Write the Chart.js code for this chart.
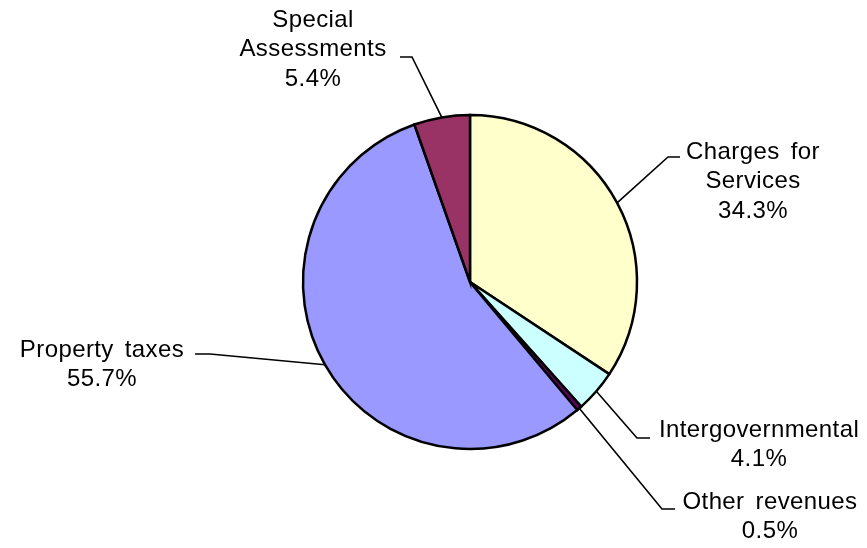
<!DOCTYPE html>
<html>
<head>
<meta charset="utf-8">
<script src="https://cdn.jsdelivr.net/npm/chart.js@4.4.1/dist/chart.umd.min.js"></script>
<style>
  html, body { margin: 0; padding: 0; background: #ffffff; }
  #wrap { width: 867px; height: 548px; position: relative; }
</style>
</head>
<body>
<div id="wrap"><canvas id="pie"></canvas></div>
<script>
// Data
const categories = ["Charges for Services", "Intergovernmental", "Other revenues", "Property taxes", "Special Assessments"];
const shares = [34.3, 4.1, 0.5, 55.7, 5.4];
const sliceColors = ["#FFFFCC", "#CCFFFF", "#660066", "#9999FF", "#993366"];
// label text lines (as shown next to each slice)
const labelLines = [
    ["Charges for", "Services", "34.3%"],
    ["Intergovernmental", "4.1%"],
    ["Other revenues", "0.5%"],
    ["Property taxes", "55.7%"],
    ["Special", "Assessments", "5.4%"]
];

// where each label block sits, plus elbow of its leader line
const labelLayout = [
    { cx: 753, top: 152, elbow: [668, 157], end: [680, 157] },
    { cx: 759, top: 430, elbow: [637, 438], end: [650, 438] },
    { cx: 770, top: 502, elbow: [662, 509], end: [675, 509] },
    { cx: 102, top: 350, elbow: [210, 354], end: [195, 354] },
    { cx: 313, top: 20, elbow: [412, 57], end: [400, 57] }
];
const lineGap = 29.5;

// plugin that draws the leader lines and labels
const calloutPlugin = {
    id: "callouts",
    afterDatasetsDraw(chart) {
        const ctx = chart.ctx;
        const arcs = chart.getDatasetMeta(0).data;
        ctx.save();
        arcs.forEach((arc, i) => {
            const p = arc.getProps(["x", "y", "startAngle", "endAngle", "outerRadius"], true);
            const mid = (p.startAngle + p.endAngle) / 2;
            const ax = p.x + Math.cos(mid) * p.outerRadius;
            const ay = p.y + Math.sin(mid) * p.outerRadius;
            const lay = labelLayout[i];

            ctx.strokeStyle = "#000000";
            ctx.lineWidth = 1.6;
            ctx.beginPath();
            ctx.moveTo(ax, ay);
            ctx.lineTo(lay.elbow[0], lay.elbow[1]);
            ctx.lineTo(lay.end[0], lay.end[1]);
            ctx.stroke();

            ctx.fillStyle = "#000000";
            ctx.font = '24px Arial, "Liberation Sans", sans-serif';
            ctx.letterSpacing = "0.4px";
            ctx.wordSpacing = "4px";
            ctx.textAlign = "center";
            ctx.textBaseline = "middle";
            labelLines[i].forEach((t, k) => {
                ctx.fillText(t, lay.cx, lay.top + k * lineGap);
            });
        });
        ctx.restore();
    }
};

const ctxPie = document.getElementById("pie").getContext("2d");
const pieChart = new Chart(ctxPie, {
    type: "pie",
    data: {
        labels: categories,
        datasets: [{
            data: shares,
            backgroundColor: sliceColors,
            borderColor: "#000000",
            borderWidth: 2.5,
            borderJoinStyle: "miter"
        }]
    },
    options: {
        responsive: true,
        maintainAspectRatio: false,
        animation: false,
        radius: 167,
        layout: {
            padding: { left: 140, right: 67, top: 116, bottom: 100 }
        },
        plugins: {
            legend: { display: false },
            tooltip: { enabled: false }
        }
    },
    plugins: [calloutPlugin]
});
</script>
</body>
</html>
